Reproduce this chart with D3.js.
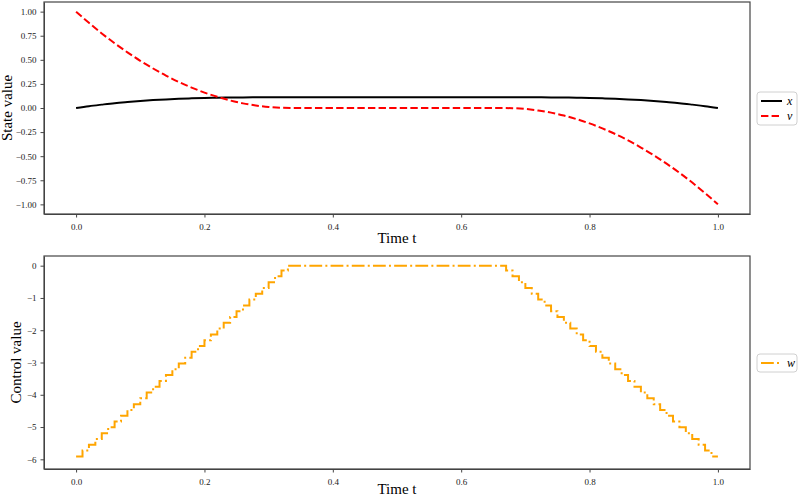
<!DOCTYPE html>
<html>
<head>
<meta charset="utf-8">
<script src="https://cdn.jsdelivr.net/npm/d3@7"></script>
<style>
  body { margin: 0; background: #fff; }
  svg, svg text { font-family: "Liberation Serif", "DejaVu Serif", serif; }
  .axis path, .axis line { stroke: #444; }
  .axis text { font-size: 9px; fill: #222; font-family: "Liberation Serif", serif; }
</style>
</head>
<body>
<div id="chart"></div>
<script>
// state trajectory samples
const stateTime = [0, 0.02, 0.04, 0.06, 0.08, 0.10, 0.12, 0.14, 0.16, 0.18, 0.20, 0.22, 0.24, 0.26, 0.28,
                   0.30, 0.32, 0.34, 0.36, 0.38, 0.40, 0.42, 0.44, 0.46, 0.48, 0.50, 0.52, 0.54, 0.56,
                   0.58, 0.60, 0.62, 0.64, 0.66, 0.68, 0.70, 0.72, 0.74, 0.76, 0.78, 0.80, 0.82, 0.84,
                   0.86, 0.88, 0.90, 0.92, 0.94, 0.96, 0.98, 1.00];
const xValues = [0, 0.019, 0.035, 0.050, 0.062, 0.073, 0.082, 0.089, 0.095, 0.100, 0.104, 0.107, 0.109,
                 0.110, 0.111, 0.111, 0.111, 0.111, 0.111, 0.111, 0.111, 0.111, 0.111, 0.111, 0.111,
                 0.111, 0.111, 0.111, 0.111, 0.111, 0.111, 0.111, 0.111, 0.111, 0.111, 0.111, 0.111,
                 0.110, 0.109, 0.107, 0.104, 0.100, 0.095, 0.089, 0.082, 0.073, 0.062, 0.050, 0.035,
                 0.019, 0];
const vValues = [1, 0.884, 0.774, 0.672, 0.578, 0.490, 0.410, 0.336, 0.270, 0.212, 0.160, 0.116, 0.078,
                 0.048, 0.026, 0.010, 0.002, 0, 0, 0, 0, 0, 0, 0, 0, 0, 0, 0, 0, 0, 0, 0, 0, 0,
                 -0.002, -0.010, -0.026, -0.048, -0.078, -0.116, -0.160, -0.212, -0.270, -0.336,
                 -0.410, -0.490, -0.578, -0.672, -0.774, -0.884, -1];

// piecewise constant control, one value per interval
const controlEdges = [0, 0.01, 0.02, 0.03, 0.04, 0.05, 0.06, 0.07, 0.08, 0.09, 0.10, 0.11, 0.12, 0.13,
                      0.14, 0.15, 0.16, 0.17, 0.18, 0.19, 0.20, 0.21, 0.22, 0.23, 0.24, 0.25, 0.26,
                      0.27, 0.28, 0.29, 0.30, 0.31, 0.32, 0.33, 0.34, 0.35, 0.36, 0.37, 0.38, 0.39,
                      0.40, 0.41, 0.42, 0.43, 0.44, 0.45, 0.46, 0.47, 0.48, 0.49, 0.50, 0.51, 0.52,
                      0.53, 0.54, 0.55, 0.56, 0.57, 0.58, 0.59, 0.60, 0.61, 0.62, 0.63, 0.64, 0.65,
                      0.66, 0.67, 0.68, 0.69, 0.70, 0.71, 0.72, 0.73, 0.74, 0.75, 0.76, 0.77, 0.78,
                      0.79, 0.80, 0.81, 0.82, 0.83, 0.84, 0.85, 0.86, 0.87, 0.88, 0.89, 0.90, 0.91,
                      0.92, 0.93, 0.94, 0.95, 0.96, 0.97, 0.98, 0.99, 1.00];
const wValues = [-5.91, -5.73, -5.55, -5.37, -5.19, -5.01, -4.83, -4.65, -4.47, -4.29, -4.11, -3.93,
                 -3.75, -3.57, -3.39, -3.21, -3.03, -2.85, -2.67, -2.49, -2.31, -2.13, -1.95, -1.77,
                 -1.59, -1.41, -1.23, -1.05, -0.87, -0.69, -0.51, -0.33, -0.15,
                 0, 0, 0, 0, 0, 0, 0, 0, 0, 0, 0, 0, 0, 0, 0, 0, 0, 0, 0, 0, 0, 0, 0, 0, 0, 0, 0, 0,
                 0, 0, 0, 0, 0, 0,
                 -0.15, -0.33, -0.51, -0.69, -0.87, -1.05, -1.23, -1.41, -1.59, -1.77, -1.95, -2.13,
                 -2.31, -2.49, -2.67, -2.85, -3.03, -3.21, -3.39, -3.57, -3.75, -3.93, -4.11, -4.29,
                 -4.47, -4.65, -4.83, -5.01, -5.19, -5.37, -5.55, -5.73, -5.91];

const timeTicks = [0, 0.2, 0.4, 0.6, 0.8, 1.0];
const stateTicks = [-1, -0.75, -0.5, -0.25, 0, 0.25, 0.5, 0.75, 1];
const controlTicks = [0, -1, -2, -3, -4, -5, -6];

const width = 800, height = 497;
const left = 44, right = 750;

const svg = d3.select("#chart").append("svg")
  .attr("width", width)
  .attr("height", height);

const fmtMinus = s => s.replace("-", "\u2212");

function drawPanel(top, bottom, yDomain, yTicks, yFmt, yLabel, yLabelX, xLabelY) {
  const x = d3.scaleLinear().domain([-0.05, 1.05]).range([left, right]);
  const y = d3.scaleLinear().domain(yDomain).range([bottom, top]);

  svg.append("g")
    .attr("class", "axis")
    .attr("font-family", null)
    .attr("transform", "translate(0," + bottom + ")")
    .call(d3.axisBottom(x).tickValues(timeTicks).tickFormat(d3.format(".1f")).tickSize(3.5).tickSizeOuter(0))
    .call(g => g.selectAll("text").attr("dy", "1.1em"));

  svg.append("g")
    .attr("class", "axis")
    .attr("transform", "translate(" + left + ",0)")
    .call(d3.axisLeft(y).tickValues(yTicks).tickFormat(d => fmtMinus(yFmt(d))).tickSize(3.5).tickSizeOuter(0))
    .call(g => g.selectAll("text").attr("dx", "-0.1em"));

  // frame
  svg.append("rect")
    .attr("x", left).attr("y", top)
    .attr("width", right - left).attr("height", bottom - top)
    .attr("fill", "none").attr("stroke", "#444").attr("stroke-width", 1.2);

  svg.append("text")
    .attr("x", (left + right) / 2).attr("y", xLabelY)
    .attr("text-anchor", "middle")
    .style("font-size", "15px")
    .text("Time t");

  svg.append("text")
    .attr("transform", "translate(" + yLabelX + "," + (top + bottom) / 2 + ") rotate(-90)")
    .attr("text-anchor", "middle")
    .style("font-size", "15px")
    .text(yLabel);

  return [x, y];
}

function drawLegend(lx, ly, w, h, items) {
  const g = svg.append("g");
  g.append("rect")
    .attr("x", lx).attr("y", ly).attr("width", w).attr("height", h)
    .attr("rx", 3)
    .attr("fill", "#fff").attr("stroke", "#d0d0d0").attr("stroke-width", 1);
  items.forEach((it, i) => {
    const yy = ly + 9 + i * 15;
    g.append("line")
      .attr("x1", lx + 4).attr("x2", lx + 25)
      .attr("y1", yy).attr("y2", yy)
      .attr("stroke", it.color).attr("stroke-width", 2)
      .attr("stroke-dasharray", it.dash);
    g.append("text")
      .attr("x", lx + 30).attr("y", yy + 3.5)
      .style("font-size", "12px").style("font-style", "italic")
      .text(it.label);
  });
}

// top panel: states
const [x1, y1] = drawPanel(2, 214, [-1.1, 1.1], stateTicks, d3.format(".2f"), "State value", 12, 243);

const stateLine = vals => d3.line()
  .x((d, i) => x1(stateTime[i]))
  .y(d => y1(d))
  .curve(d3.curveMonotoneX)(vals);

svg.append("path")
  .attr("d", stateLine(xValues))
  .attr("fill", "none").attr("stroke", "#000").attr("stroke-width", 2);

svg.append("path")
  .attr("d", stateLine(vValues))
  .attr("fill", "none").attr("stroke", "#ff0000").attr("stroke-width", 2)
  .attr("stroke-dasharray", "7.4,3.2");

drawLegend(757, 92, 40, 33, [
  { label: "x", color: "#000", dash: null },
  { label: "v", color: "#ff0000", dash: "7.4,3.2" }
]);

// bottom panel: control
const [x2, y2] = drawPanel(256, 469, [-6.3, 0.3], controlTicks, d3.format("d"), "Control value", 21, 494);

const stepPts = wValues.map((d, i) => [controlEdges[i], d]);
stepPts.push([controlEdges[controlEdges.length - 1], wValues[wValues.length - 1]]);

svg.append("path")
  .attr("d", d3.line()
    .x(d => x2(d[0]))
    .y(d => y2(d[1]))
    .curve(d3.curveStepAfter)(stepPts))
  .attr("fill", "none").attr("stroke", "#ffa500").attr("stroke-width", 2)
  .attr("stroke-dasharray", "12.8,3.2,2,3.2");

drawLegend(757, 354, 40, 18, [
  { label: "w", color: "#ffa500", dash: "12.8,3.2,2,3.2" }
]);
</script>
</body>
</html>
